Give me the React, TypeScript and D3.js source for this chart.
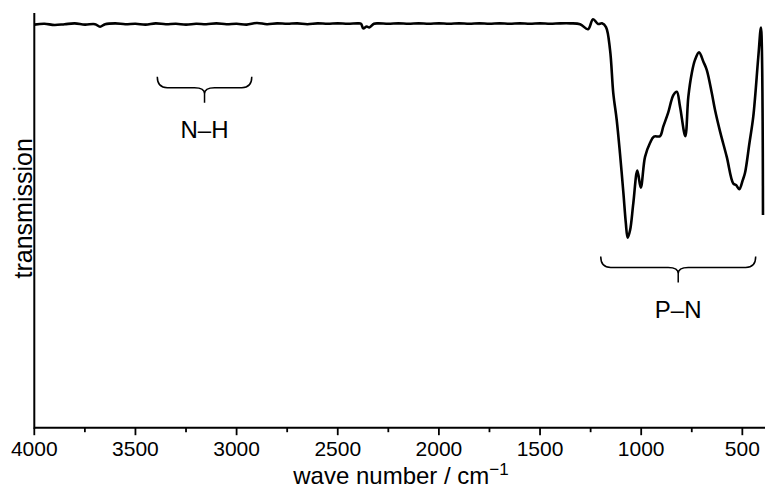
import React, { useEffect, useRef } from "react";
import * as d3 from "d3";

// IR spectrum: wavenumber (cm^-1) and transmission (%)
const wavenumbers: number[] = [
  4000, 3950, 3900, 3850, 3800, 3750, 3700, 3675, 3650, 3600, 3550, 3500, 3450, 3400,
  3350, 3300, 3250, 3200, 3150, 3100, 3050, 3000, 2950, 2900, 2850, 2800, 2750, 2700,
  2650, 2600, 2550, 2500, 2450, 2400, 2385, 2374, 2357, 2344, 2321, 2300, 2250, 2200,
  2150, 2100, 2050, 2000, 1950, 1900, 1850, 1800, 1750, 1700, 1650, 1600, 1550, 1500,
  1450, 1400, 1350, 1302, 1263, 1238, 1213, 1194, 1174, 1154, 1138, 1121, 1105, 1088,
  1076, 1067, 1055, 1039, 1019, 1002, 981, 956, 937, 907, 891, 867, 841, 824, 808, 782,
  767, 750, 734, 714, 693, 676, 651, 635, 610, 577, 545, 531, 515, 498, 487, 465, 446,
  421, 408, 398,
];

const transmission: number[] = [
  97.2, 97.4, 97.1, 97.3, 97.5, 97.2, 97.3, 96.7, 97.3, 97.5, 97.3, 97.4, 97.2, 97.5,
  97.3, 97.4, 97.2, 97.4, 97.3, 97.5, 97.3, 97.4, 97.2, 97.6, 97.3, 97.5, 97.4, 97.5,
  97.3, 97.5, 97.4, 97.5, 97.4, 97.5, 97.4, 96.3, 96.75, 96.5, 97.4, 97.5, 97.4, 97.5,
  97.4, 97.5, 97.4, 97.5, 97.4, 97.5, 97.4, 97.5, 97.4, 97.5, 97.4, 97.5, 97.4, 97.5,
  97.4, 97.5, 97.5, 97.3, 96.1, 98.5, 97.35, 97.5, 96.6, 91.1, 80.7, 74.2, 66.2, 56.6,
  49.4, 45.8, 47.6, 54.1, 62.0, 57.9, 65.3, 68.7, 70.2, 70.3, 72.6, 75.9, 80.2, 81.0, 77.4, 70.3,
  79.8, 85.5, 88.7, 90.5, 88.3, 86.3, 80.7, 76.6, 71.4, 65.3, 58.9, 58.5, 57.5, 59.7, 61.4, 68.6, 75.0,
  89.5, 96.5, 51.3,
];

const xTicks: number[] = [4000, 3500, 3000, 2500, 2000, 1500, 1000, 500];
const xMinorTicks: number[] = [3750, 3250, 2750, 2250, 1750, 1250, 750];

// Band assignments: label, wavenumber range, brace height (transmission units)
const bandLabels: string[] = ["N–H", "P–N"];
const bandFrom: number[] = [3392, 1200];
const bandTo: number[] = [2925, 434];
const bandLevel: number[] = [84.6, 41.3];

const W = 765;
const H = 489;
const FONT = "'Liberation Sans', Arial, Helvetica, sans-serif";

export default function App() {
  const ref = useRef<SVGSVGElement>(null);

  useEffect(() => {
    const svg = d3.select(ref.current);
    svg.selectAll("*").remove();

    const left = 34.3;
    const bottom = 427.7;
    const top = 13;

    const x = d3.scaleLinear().domain([4000, 388]).range([left, W]);
    const y = d3.scaleLinear().domain([0, 100]).range([bottom, top]);

    // axes
    const gx = svg.append("g").attr("transform", `translate(0,${bottom})`);
    gx.append("line")
      .attr("x1", left).attr("x2", W).attr("y1", 0).attr("y2", 0)
      .attr("stroke", "#000").attr("stroke-width", 2);
    gx.selectAll("line.major")
      .data(xTicks)
      .join("line")
      .attr("class", "major")
      .attr("x1", (d) => x(d)).attr("x2", (d) => x(d))
      .attr("y1", 0).attr("y2", 7.5)
      .attr("stroke", "#000").attr("stroke-width", 1.8);
    gx.selectAll("line.minor")
      .data(xMinorTicks)
      .join("line")
      .attr("class", "minor")
      .attr("x1", (d) => x(d)).attr("x2", (d) => x(d))
      .attr("y1", 0).attr("y2", 4.5)
      .attr("stroke", "#000").attr("stroke-width", 1.8);
    gx.selectAll("text")
      .data(xTicks)
      .join("text")
      .attr("x", (d) => x(d))
      .attr("y", 28.5)
      .attr("text-anchor", "middle")
      .attr("font-family", FONT)
      .attr("font-size", 21)
      .attr("fill", "#000")
      .text((d) => String(d));

    svg.append("line")
      .attr("x1", left).attr("x2", left).attr("y1", top).attr("y2", bottom + 1)
      .attr("stroke", "#000").attr("stroke-width", 2);

    // axis titles
    const title = svg.append("text")
      .attr("x", 401)
      .attr("y", 484)
      .attr("text-anchor", "middle")
      .attr("font-family", FONT)
      .attr("font-size", 24)
      .attr("fill", "#000");
    title.append("tspan").text("wave number / cm");
    title.append("tspan")
      .attr("font-size", 17)
      .attr("dy", -9)
      .text("−1");

    svg.append("text")
      .attr("transform", `translate(31.7,${(130 + 286.7) / 2}) rotate(-90)`)
      .attr("text-anchor", "middle")
      .attr("font-family", FONT)
      .attr("font-size", 25)
      .attr("fill", "#000")
      .text("transmission");

    // spectrum
    const pts: [number, number][] = wavenumbers.map((w, i) => [w, transmission[i]]);
    const line = d3.line<[number, number]>()
      .x((d) => x(d[0]))
      .y((d) => y(d[1]))
      .curve(d3.curveCatmullRom.alpha(0.5));
    svg.append("path")
      .attr("d", line(pts) ?? "")
      .attr("fill", "none")
      .attr("stroke", "#000")
      .attr("stroke-width", 2.6)
      .attr("stroke-linejoin", "round");

    // band braces
    bandLabels.forEach((label, i) => {
      const x0 = x(bandFrom[i]);
      const x1 = x(bandTo[i]);
      const xm = (x0 + x1) / 2;
      const yTop = y(bandLevel[i]);
      const yH = yTop + 11;
      const yTip = yH + 15;
      const r = 10;
      const p = d3.path();
      p.moveTo(x0, yTop);
      p.quadraticCurveTo(x0, yH, x0 + r, yH);
      p.lineTo(xm - r, yH);
      p.quadraticCurveTo(xm, yH, xm, yH + 6);
      p.lineTo(xm, yTip);
      p.moveTo(xm, yH + 6);
      p.quadraticCurveTo(xm, yH, xm + r, yH);
      p.lineTo(x1 - r, yH);
      p.quadraticCurveTo(x1, yH, x1, yTop);
      svg.append("path")
        .attr("d", p.toString())
        .attr("fill", "none")
        .attr("stroke", "#000")
        .attr("stroke-width", 1.5);
      svg.append("text")
        .attr("x", xm)
        .attr("y", yTip + 35.5)
        .attr("text-anchor", "middle")
        .attr("font-family", FONT)
        .attr("font-size", 24)
        .attr("fill", "#000")
        .text(label);
    });
  }, []);

  return (
    <svg
      ref={ref}
      width={W}
      height={H}
      style={{ position: "absolute", left: 0, top: 0, background: "#fff" }}
    />
  );
}
